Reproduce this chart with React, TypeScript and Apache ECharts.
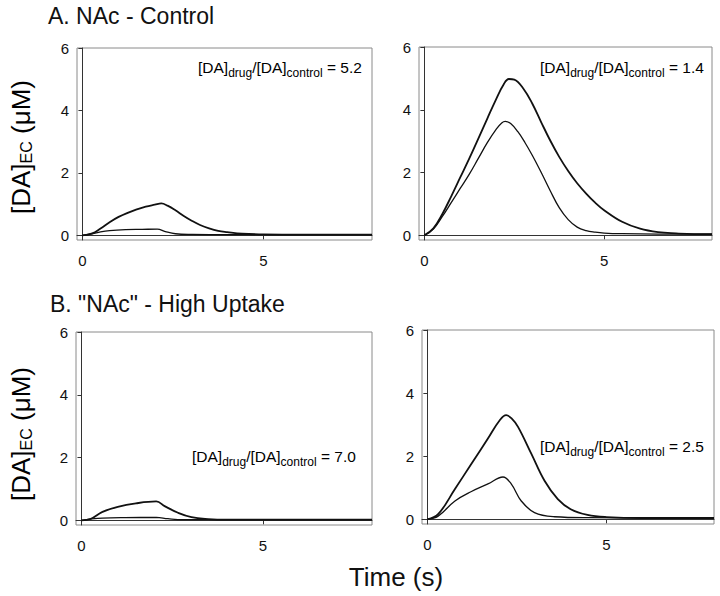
import React, { useEffect, useRef } from "react";
import * as echarts from "echarts";

// Tick values
const TIME_TICKS = [0, 5];
const CONC_TICKS = [0, 2, 4, 6];

// Texts
const PANEL_TITLES = ["A. NAc - Control", "B. \"NAc\" - High Uptake"];
const RATIO_VALUES = ["5.2", "1.4", "7.0", "2.5"];
const X_TITLE = "Time (s)";

// [time (s), concentration (µM)]
const aLeftDrug: number[][] = [
  [0, 0], [0.27, 0.06], [0.5, 0.22], [0.75, 0.42], [1.0, 0.59], [1.25, 0.72],
  [1.5, 0.83], [1.75, 0.92], [2.0, 0.98], [2.18, 1.02], [2.35, 0.95],
  [2.57, 0.8], [2.8, 0.62], [3.03, 0.46], [3.25, 0.33], [3.5, 0.22],
  [3.75, 0.14], [4.0, 0.1], [4.41, 0.05], [5, 0.03], [6, 0.02], [8, 0.02],
];
const aLeftControl: number[][] = [
  [0, 0], [0.27, 0.05], [0.5, 0.11], [0.75, 0.15], [1.19, 0.18], [1.65, 0.19],
  [2.07, 0.2], [2.29, 0.12], [2.57, 0.05], [3.03, 0.03], [4, 0.02], [8, 0.02],
];
const aRightDrug: number[][] = [
  [0, 0], [0.25, 0.22], [0.5, 0.68], [0.75, 1.25], [1.0, 1.85], [1.25, 2.45],
  [1.5, 3.08], [1.75, 3.72], [2.0, 4.35], [2.2, 4.8], [2.35, 4.98], [2.5, 4.96],
  [2.75, 4.68], [3.0, 4.2], [3.25, 3.6], [3.5, 3.02], [3.75, 2.5], [4.0, 2.05],
  [4.25, 1.66], [4.5, 1.33], [4.75, 1.04], [5.0, 0.8], [5.5, 0.43], [6.0, 0.21],
  [6.5, 0.1], [7.0, 0.06], [7.5, 0.04], [8, 0.04],
];
const aRightControl: number[][] = [
  [0, 0], [0.25, 0.2], [0.5, 0.6], [0.75, 1.05], [1.0, 1.5], [1.25, 1.95],
  [1.5, 2.45], [1.75, 2.95], [2.0, 3.38], [2.15, 3.58], [2.25, 3.63],
  [2.4, 3.56], [2.6, 3.3], [2.8, 2.95], [3.0, 2.55], [3.25, 2.0], [3.5, 1.42],
  [3.75, 0.88], [4.0, 0.5], [4.25, 0.26], [4.5, 0.15], [4.75, 0.1], [5.0, 0.07],
  [5.5, 0.05], [6.5, 0.04], [8, 0.04],
];
const bLeftDrug: number[][] = [
  [0, 0], [0.26, 0.05], [0.58, 0.27], [1.0, 0.43], [1.5, 0.54], [2.06, 0.6],
  [2.29, 0.45], [2.66, 0.24], [3.03, 0.1], [3.49, 0.04], [4, 0.02], [8, 0.02],
];
const bLeftControl: number[][] = [
  [0, 0], [0.26, 0.04], [0.58, 0.07], [1.2, 0.085], [2.06, 0.09], [2.38, 0.05],
  [2.8, 0.02], [8, 0.02],
];
const bRightDrug: number[][] = [
  [0, 0], [0.3, 0.16], [0.77, 0.96], [1.23, 1.76], [1.69, 2.56], [2.02, 3.14],
  [2.2, 3.3], [2.35, 3.2], [2.53, 2.93], [2.9, 2.08], [3.27, 1.22], [3.64, 0.64],
  [4.0, 0.32], [4.47, 0.14], [5.0, 0.07], [6, 0.04], [8, 0.04],
];
const bRightControl: number[][] = [
  [0, 0], [0.3, 0.1], [0.77, 0.58], [1.23, 0.88], [1.69, 1.12], [2.11, 1.34],
  [2.34, 1.12], [2.62, 0.58], [2.99, 0.21], [3.55, 0.08], [4.5, 0.05], [8, 0.04],
];

const PANEL_DATA = [
  [aLeftDrug, aLeftControl],
  [aRightDrug, aRightControl],
  [bLeftDrug, bLeftControl],
  [bRightDrug, bRightControl],
];

const FONT = "'Liberation Sans', Arial, Helvetica, sans-serif";
const INK = "#111";

const GRIDS = [
  { left: 77, top: 48, width: 295, height: 192 },
  { left: 419, top: 47, width: 293, height: 193 },
  { left: 76, top: 332, width: 296, height: 193 },
  { left: 422, top: 330, width: 292, height: 194 },
];
const RATIO_POS = [
  { x: 198, y: 67 },
  { x: 540, y: 67 },
  { x: 192, y: 456 },
  { x: 540, y: 446 },
];

export default function App() {
  const ref = useRef<HTMLDivElement>(null);
  useEffect(() => {
    if (!ref.current) return;
    const chart = echarts.init(ref.current, undefined, { renderer: "svg" });

    const grid = GRIDS.map((g) => ({
      ...g,
      show: true,
      borderColor: "#8a8a8a",
      borderWidth: 1,
      containLabel: false,
    }));

    const xAxis = GRIDS.map((_, i) => ({
      type: "value",
      gridIndex: i,
      min: -0.15,
      max: 8,
      splitLine: { show: false },
      axisLine: { show: true, lineStyle: { color: "#333", width: 1 } },
      axisTick: {
        show: true,
        length: 4,
        customValues: TIME_TICKS,
        lineStyle: { color: "#333" },
      },
      axisLabel: {
        customValues: TIME_TICKS,
        margin: 13,
        fontSize: 15,
        fontFamily: FONT,
        color: INK,
      },
    }));

    const yAxis = GRIDS.map((_, i) => ({
      type: "value",
      gridIndex: i,
      min: -0.15,
      max: 6,
      splitLine: { show: false },
      axisLine: { show: true, lineStyle: { color: "#333", width: 1 } },
      axisTick: {
        show: true,
        length: 4,
        customValues: CONC_TICKS,
        lineStyle: { color: "#333" },
      },
      axisLabel: {
        customValues: CONC_TICKS,
        margin: 8,
        fontSize: 15,
        fontFamily: FONT,
        color: INK,
      },
    }));

    const series: any[] = [];
    PANEL_DATA.forEach((pair, i) => {
      pair.forEach((data, j) => {
        series.push({
          type: "line",
          name: (j === 0 ? "drug" : "control") + " " + i,
          xAxisIndex: i,
          yAxisIndex: i,
          data,
          symbol: "none",
          showSymbol: false,
          smooth: 0.4,
          lineStyle: { color: INK, width: j === 0 ? 1.8 : 1.3 },
          silent: true,
        });
      });
    });

    const ratioRich = {
      m: { fontSize: 15.5, lineHeight: 24, fontFamily: FONT, color: INK, verticalAlign: "middle" },
      s: { fontSize: 12, lineHeight: 11, fontFamily: FONT, color: INK, verticalAlign: "bottom" },
    };

    const graphic: any[] = [];
    RATIO_POS.forEach((p, i) => {
      graphic.push({
        type: "text",
        x: p.x,
        y: p.y,
        silent: true,
        style: {
          text: `{m|[DA]}{s|drug}{m|/[DA]}{s|control}{m| = ${RATIO_VALUES[i]}}`,
          rich: ratioRich,
          align: "left",
          verticalAlign: "middle",
        },
      });
    });

    // Panel titles
    graphic.push({
      type: "text",
      x: 48,
      y: 16,
      silent: true,
      style: {
        text: PANEL_TITLES[0],
        fontSize: 23,
        fontFamily: FONT,
        fill: INK,
        align: "left",
        verticalAlign: "middle",
      },
    });
    graphic.push({
      type: "text",
      x: 50,
      y: 304,
      silent: true,
      style: {
        text: PANEL_TITLES[1],
        fontSize: 23,
        fontFamily: FONT,
        fill: INK,
        align: "left",
        verticalAlign: "middle",
      },
    });

    // Y axis titles
    const yRich = {
      m: { fontSize: 26, lineHeight: 27, fontFamily: FONT, color: INK, verticalAlign: "middle" },
      s: { fontSize: 16, lineHeight: 15, fontFamily: FONT, color: INK, verticalAlign: "bottom" },
    };
    [147, 434].forEach((cy) => {
      graphic.push({
        type: "text",
        x: 21,
        y: cy,
        rotation: Math.PI / 2,
        silent: true,
        style: {
          text: "{m|[DA]}{s|EC}{m| (μM)}",
          rich: yRich,
          align: "center",
          verticalAlign: "middle",
        },
      });
    });

    // X axis title
    graphic.push({
      type: "text",
      x: 396,
      y: 577,
      silent: true,
      style: {
        text: X_TITLE,
        fontSize: 26,
        fontFamily: FONT,
        fill: INK,
        align: "center",
        verticalAlign: "middle",
      },
    });

    chart.setOption({
      animation: false,
      backgroundColor: "#fff",
      grid,
      xAxis,
      yAxis,
      series,
      graphic,
    } as any);

    return () => chart.dispose();
  }, []);

  return (
    <div
      ref={ref}
      style={{ position: "fixed", left: 0, top: 0, width: 720, height: 596 }}
    />
  );
}
